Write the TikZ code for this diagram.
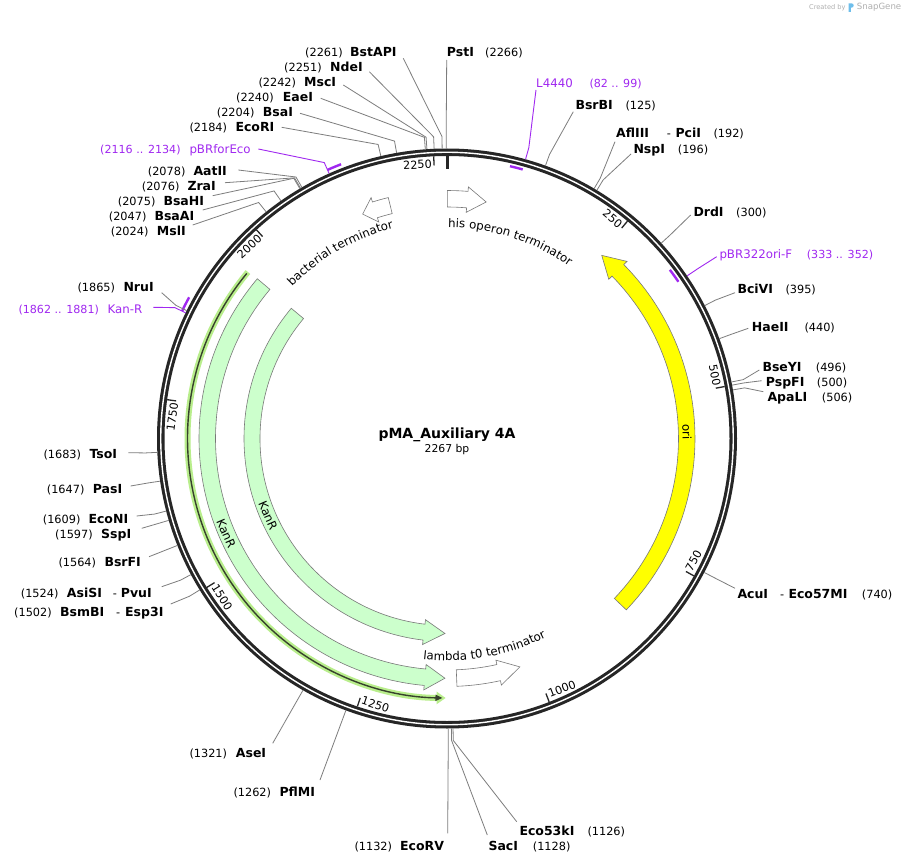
\documentclass[tikz,border=0pt]{standalone}
\usepackage{fontspec}
\setmainfont{DejaVu Sans}
\usetikzlibrary{calc,decorations.text,arrows.meta}
\definecolor{ringc}{RGB}{38,38,38}
\definecolor{leadc}{RGB}{125,125,125}
\definecolor{primc}{RGB}{160,40,240}
\definecolor{kanc}{RGB}{204,255,204}
\definecolor{oric}{RGB}{255,255,0}
\definecolor{edgec}{RGB}{120,120,120}
\definecolor{orfglow}{RGB}{185,238,140}
\definecolor{orfline}{RGB}{55,65,45}
\definecolor{sgc}{RGB}{175,175,175}
\definecolor{sgblue}{RGB}{110,190,235}
\tikzset{
  leadline/.style={draw=leadc, line width=0.8pt},
  primline/.style={draw=primc, line width=0.9pt},
  nametxt/.style={anchor=base west, inner sep=0pt, font=\fontsize{12.5}{14}\selectfont\bfseries},
  numtxt/.style={anchor=base west, inner sep=0pt, font=\fontsize{11.3}{13}\selectfont},
  primtxt/.style={anchor=base west, inner sep=0pt, font=\fontsize{11.8}{13}\selectfont, text=primc},
  primnum/.style={anchor=base west, inner sep=0pt, font=\fontsize{11.1}{13}\selectfont, text=primc},
  featbox/.style={draw=edgec, line width=0.6pt},
  feattxt/.style={inner sep=0pt, font=\fontsize{11.8}{14}\selectfont},
  ticktxt/.style={inner sep=0pt, font=\fontsize{11.2}{13}\selectfont},
  tickline/.style={draw=ringc, line width=1.3pt},
}
% leader: id, position, end x, end y, style
\newcommand{\Site}[5]{%
  \pgfmathsetmacro{\myA}{90-(#2)/2267*360}%
  \coordinate (c#1) at ($(O)+(\myA:290)$);%
  \coordinate (e#1) at ($(O)+(\myA:302)$);%
  \coordinate (l#1) at (#3,-#4);%
  \draw[#5] (c#1) -- (e#1) -- (l#1);%
}
% label: id, style, left x, centre y, text
\newcommand{\Lab}[5]{%
  \node[#2] (#1) at (#3,{-(#4+4.5)}) {#5};%
}
% feature arrow: a tail, a tip, r in, r out, head ext, head len, style
\newcommand{\FArrow}[7]{%
  \pgfmathsetmacro{\fAt}{90-(#1)}%
  \pgfmathsetmacro{\fAp}{90-(#2)}%
  \pgfmathsetmacro{\fRm}{((#3)+(#4))/2}%
  \pgfmathsetmacro{\fAb}{\fAp+(#6)/\fRm*180/pi*sign(\fAt-\fAp)}%
  \pgfmathsetmacro{\fRo}{(#4)+(#5)}%
  \pgfmathsetmacro{\fRi}{(#3)-(#5)}%
  \draw[#7] ($(O)+(\fAt:#4)$) arc[start angle=\fAt, end angle=\fAb, radius=#4]
     -- ($(O)+(\fAb:\fRo)$) -- ($(O)+(\fAp:\fRm)$) -- ($(O)+(\fAb:\fRi)$)
     -- ($(O)+(\fAb:#3)$) arc[start angle=\fAb, end angle=\fAt, radius=#3] -- cycle;%
}
% text along arc: centre a, radius, dir (1 = cw reading, -1 = ccw), text
\newcommand{\ArcText}[4]{%
  \pgfmathsetmacro{\tS}{90-(#1)+30*(#3)}%
  \pgfmathsetmacro{\tE}{90-(#1)-30*(#3)}%
  \path[decorate, decoration={text along path, text align=center,
      text={|\fontsize{11.8}{14}\selectfont|#4}}]
    ($(O)+(\tS:#2)$) arc[start angle=\tS, end angle=\tE, radius=#2];%
}
% primer mark: start pos, end pos, radius
\newcommand{\PrimerMark}[3]{%
  \pgfmathsetmacro{\pmA}{90-(#1)/2267*360}%
  \pgfmathsetmacro{\pmB}{90-(#2)/2267*360}%
  \draw[primc, line width=2.4pt] ($(O)+(\pmA:#3)$) arc[start angle=\pmA, end angle=\pmB, radius=#3];%
}
\begin{document}
\begin{tikzpicture}[x=1pt,y=1pt]
\fill[white] (0,0) rectangle (906,-864);
\path[use as bounding box] (0,0) rectangle (906,-864);
\coordinate (O) at (447,-438.5);

% ---- features ----
\FArrow{133.7}{40.2}{231.5}{248}{4.5}{22}{featbox, fill=oric}
\FArrow{310.1}{180.5}{231.5}{248}{4.5}{20}{featbox, fill=kanc}
\FArrow{309.9}{180.6}{187}{203}{4.5}{21}{featbox, fill=kanc}
\FArrow{0.1}{9.4}{231.5}{248}{4.5}{19}{featbox, fill=white}
\FArrow{346.3}{339.4}{231.5}{248}{4.5}{13}{featbox, fill=white}
\FArrow{177.7}{162.3}{231.5}{248}{4.5}{22}{featbox, fill=white}

% ORF line
\draw[orfglow, line width=6pt, -{Triangle[length=9pt,width=12pt]}]
  ($(O)+({90-309.9}:259.5)$) arc[start angle={90-309.9}, end angle={90-180.3}, radius=259.5];
\draw[orfline, line width=1.4pt, -{Triangle[length=7pt,width=6pt]}]
  ($(O)+({90-309.5}:259.5)$) arc[start angle={90-309.5}, end angle={90-181.0}, radius=259.5];

% feature labels
\ArcText{17.8}{211}{1}{his operon terminator}
\ArcText{330.1}{217}{1}{bacterial terminator}
\ArcText{169.8}{222}{-1}{lambda t0 terminator}
\node[feattxt, rotate=-66.7] (kanlab1) at ($(O)+({90-246.7}:240.5)$) {KanR};
\node[feattxt, rotate=-66.7] (kanlab2) at ($(O)+({90-246.7}:195)$) {KanR};
\node[feattxt, rotate=-88.5] (orilab) at ($(O)+({90-88.5}:240)$) {ori};

% ---- backbone ----
\draw[ringc, line width=7.5pt] (O) circle[radius=286.25];
\draw[white, line width=1.4pt] (O) circle[radius=286.25];
\draw[ringc, line width=3pt] ($(O)+(90:283)$) -- ($(O)+(90:269.5)$);
\foreach \p/\f in {250/0,500/0,750/1,1000/1,1250/1,1500/1,1750/0,2000/0,2250/0} {
  \pgfmathsetmacro{\tA}{90-\p/2267*360}
  \pgfmathsetmacro{\tB}{\tA+0.45}
  \draw[tickline] ($(O)+(\tA:282.5)$) -- ($(O)+(\tA:273.5)$);
  \ifnum\f=0
    \node[ticktxt, anchor=east, rotate={\tA-90}] (t\p) at ($(O)+(\tB:275)$) {\p};
  \else
    \node[ticktxt, anchor=west, rotate={\tA+90}] (t\p) at ($(O)+(\tB:275)$) {\p};
  \fi
}

% primer marks
\PrimerMark{2116}{2134}{294}
\PrimerMark{1862}{1881}{294}
\PrimerMark{82}{99}{279.5}
\PrimerMark{333}{352}{279.5}

% ---- leaders ----
\Site{BstAPI}{2261}{403.3}{58.3}{leadline}
\Site{NdeI}{2251}{369.3}{71.7}{leadline}
\Site{MscI}{2242}{343.3}{85}{leadline}
\Site{EaeI}{2240}{320.7}{98.3}{leadline}
\Site{BsaI}{2204}{300}{113.3}{leadline}
\Site{EcoRI}{2184}{281.7}{127.3}{leadline}
\Site{pBRforEco}{2116}{258.3}{149}{primline}
\Site{AatII}{2078}{238.3}{170}{leadline}
\Site{ZraI}{2076}{225}{182.7}{leadline}
\Site{BsaHI}{2075}{212.7}{195.7}{leadline}
\Site{BsaAI}{2047}{202.7}{210}{leadline}
\Site{MslI}{2024}{192.7}{225}{leadline}
\Site{PstI}{2266}{446.7}{60}{leadline}
\Site{L4440}{99}{536}{90}{primline}
\Site{BsrBI}{125}{573.3}{111.7}{leadline}
\Site{AflIII}{192}{615}{141.7}{leadline}
\Site{NspI}{196}{631}{154}{leadline}
\Site{DrdI}{300}{690.7}{215}{leadline}
\Site{pBRori}{352}{716.7}{256.7}{primline}
\Site{BciVI}{395}{735}{292.7}{leadline}
\Site{HaeII}{440}{748.3}{328.3}{leadline}
\Site{BseYI}{496}{759.3}{370}{leadline}
\Site{PspFI}{500}{761.7}{380.7}{leadline}
\Site{ApaLI}{506}{763.3}{391.7}{leadline}
\Site{AcuI}{740}{735}{588.3}{leadline}
\Site{Eco53kI}{1126}{516.7}{821.7}{leadline}
\Site{SacI}{1128}{487.3}{835}{leadline}
\Site{EcoRV}{1132}{447.7}{833.3}{leadline}
\Site{PflMI}{1262}{320}{780}{leadline}
\Site{AseI}{1321}{272.7}{743.3}{leadline}
\Site{BsmBI}{1502}{170.7}{604}{leadline}
\Site{AsiSI}{1524}{161.7}{586.7}{leadline}
\Site{BsrFI}{1564}{149}{556.7}{leadline}
\Site{SspI}{1597}{141.7}{528.3}{leadline}
\Site{EcoNI}{1609}{136.7}{516}{leadline}
\Site{PasI}{1647}{130.7}{486}{leadline}
\Site{TsoI}{1683}{128.3}{452.7}{leadline}
\Site{KanRp}{1862}{153.3}{307.3}{primline}
\Site{NruI}{1865}{161.7}{292.7}{leadline}

% ---- labels ----
\Lab{pBstAPI}{numtxt}{305}{51.7}{(2261)}
\Lab{nBstAPI}{nametxt}{350}{51.7}{BstAPI}
\Lab{pNdeI}{numtxt}{284}{66.7}{(2251)}
\Lab{nNdeI}{nametxt}{330}{66.7}{NdeI}
\Lab{pMscI}{numtxt}{258.3}{81.7}{(2242)}
\Lab{nMscI}{nametxt}{304}{81.7}{MscI}
\Lab{pEaeI}{numtxt}{236}{96.7}{(2240)}
\Lab{nEaeI}{nametxt}{282.7}{96.7}{EaeI}
\Lab{pBsaI}{numtxt}{216.7}{111.7}{(2204)}
\Lab{nBsaI}{nametxt}{262.7}{111.7}{BsaI}
\Lab{pEcoRI}{numtxt}{189.3}{126.7}{(2184)}
\Lab{nEcoRI}{nametxt}{235.3}{126.7}{EcoRI}
\Lab{ppBRforEco}{primnum}{100}{149}{(2116 .. 2134)}
\Lab{npBRforEco}{primtxt}{189.3}{149}{pBRforEco}
\Lab{pAatII}{numtxt}{147.7}{170.7}{(2078)}
\Lab{nAatII}{nametxt}{193.3}{170.7}{AatII}
\Lab{pZraI}{numtxt}{141.7}{185.7}{(2076)}
\Lab{nZraI}{nametxt}{187.3}{185.7}{ZraI}
\Lab{pBsaHI}{numtxt}{117.7}{200.7}{(2075)}
\Lab{nBsaHI}{nametxt}{163.3}{200.7}{BsaHI}
\Lab{pBsaAI}{numtxt}{108.7}{215.7}{(2047)}
\Lab{nBsaAI}{nametxt}{154.3}{215.7}{BsaAI}
\Lab{pMslI}{numtxt}{110.7}{230.7}{(2024)}
\Lab{nMslI}{nametxt}{156.7}{230.7}{MslI}

\Lab{nPstI}{nametxt}{446.7}{51.7}{PstI}
\Lab{pPstI}{numtxt}{485}{51.7}{(2266)}
\Lab{nL4440}{primtxt}{536}{82.7}{L4440}
\Lab{pL4440}{primnum}{589.3}{82.7}{(82 .. 99)}
\Lab{nBsrBI}{nametxt}{575.3}{105}{BsrBI}
\Lab{pBsrBI}{numtxt}{625.3}{105}{(125)}
\Lab{nAflIII}{nametxt}{616}{133.3}{AflIII}
\Lab{dAflIII}{numtxt}{666.7}{133.3}{-}
\Lab{nPciI}{nametxt}{675.3}{133.3}{PciI}
\Lab{pAflIII}{numtxt}{713.3}{133.3}{(192)}
\Lab{nNspI}{nametxt}{633.3}{149}{NspI}
\Lab{pNspI}{numtxt}{677.7}{149}{(196)}
\Lab{nDrdI}{nametxt}{693.3}{212.3}{DrdI}
\Lab{pDrdI}{numtxt}{736}{212.3}{(300)}
\Lab{npBRori}{primtxt}{719.3}{254}{pBR322ori-F}
\Lab{ppBRori}{primnum}{806.7}{254}{(333 .. 352)}
\Lab{nBciVI}{nametxt}{737.3}{289}{BciVI}
\Lab{pBciVI}{numtxt}{785.3}{289}{(395)}
\Lab{nHaeII}{nametxt}{751.7}{327}{HaeII}
\Lab{pHaeII}{numtxt}{804.3}{327}{(440)}
\Lab{nBseYI}{nametxt}{762.3}{367}{BseYI}
\Lab{pBseYI}{numtxt}{815.7}{367}{(496)}
\Lab{nPspFI}{nametxt}{765.7}{382}{PspFI}
\Lab{pPspFI}{numtxt}{816.7}{382}{(500)}
\Lab{nApaLI}{nametxt}{767.3}{397}{ApaLI}
\Lab{pApaLI}{numtxt}{821.7}{397}{(506)}
\Lab{nAcuI}{nametxt}{737.3}{593.7}{AcuI}
\Lab{dAcuI}{numtxt}{780}{593.7}{-}
\Lab{nEco57MI}{nametxt}{788.3}{593.7}{Eco57MI}
\Lab{pAcuI}{numtxt}{861.7}{593.7}{(740)}

\Lab{nEco53kI}{nametxt}{519.3}{831}{Eco53kI}
\Lab{pEco53kI}{numtxt}{587.3}{831}{(1126)}
\Lab{nSacI}{nametxt}{488.3}{846.3}{SacI}
\Lab{pSacI}{numtxt}{532.7}{846.3}{(1128)}
\Lab{pEcoRV}{numtxt}{354.3}{846}{(1132)}
\Lab{nEcoRV}{nametxt}{400}{846}{EcoRV}
\Lab{pPflMI}{numtxt}{233.3}{792.3}{(1262)}
\Lab{nPflMI}{nametxt}{279.3}{792.3}{PflMI}
\Lab{pAseI}{numtxt}{189.3}{753.3}{(1321)}
\Lab{nAseI}{nametxt}{235.7}{753.3}{AseI}

\Lab{pBsmBI}{numtxt}{14}{611.7}{(1502)}
\Lab{nBsmBI}{nametxt}{60}{611.7}{BsmBI}
\Lab{dBsmBI}{numtxt}{116}{611.7}{-}
\Lab{nEsp3I}{nametxt}{125}{611.7}{Esp3I}
\Lab{pAsiSI}{numtxt}{20.7}{592.7}{(1524)}
\Lab{nAsiSI}{nametxt}{66.7}{592.7}{AsiSI}
\Lab{dAsiSI}{numtxt}{112.7}{592.7}{-}
\Lab{nPvuI}{nametxt}{120.7}{592.7}{PvuI}
\Lab{pBsrFI}{numtxt}{58.3}{562}{(1564)}
\Lab{nBsrFI}{nametxt}{104.3}{562}{BsrFI}
\Lab{pSspI}{numtxt}{55}{534}{(1597)}
\Lab{nSspI}{nametxt}{101}{534}{SspI}
\Lab{pEcoNI}{numtxt}{42.7}{518.7}{(1609)}
\Lab{nEcoNI}{nametxt}{88.3}{518.7}{EcoNI}
\Lab{pPasI}{numtxt}{46.7}{488.7}{(1647)}
\Lab{nPasI}{nametxt}{92.7}{488.7}{PasI}
\Lab{pTsoI}{numtxt}{43.3}{454.3}{(1683)}
\Lab{nTsoI}{nametxt}{89.3}{454.3}{TsoI}
\Lab{pKanRp}{primnum}{18.3}{309}{(1862 .. 1881)}
\Lab{nKanRp}{primtxt}{107.3}{309}{Kan-R}
\Lab{pNruI}{numtxt}{77.3}{286.7}{(1865)}
\Lab{nNruI}{nametxt}{123.3}{286.7}{NruI}

% ---- title ----
\node[inner sep=0pt, font=\fontsize{14}{16}\selectfont\bfseries] (title) at (447,-435) {pMA\_Auxiliary 4A};
\node[inner sep=0pt, font=\fontsize{10.8}{13}\selectfont] (bp) at (447,-449.5) {2267 bp};

% ---- credit ----
\node[anchor=west, inner sep=0pt, text=sgc, font=\fontsize{6.6}{8}\selectfont] (credit) at (809,-7.3) {Created by};
\fill[sgblue] (848.5,-12) -- (848.5,-3.3) -- (851.5,-3.3) arc[start angle=90, end angle=-90, radius=2.2] -- (850.8,-7.7) -- (850.8,-12) -- cycle;
\node[anchor=west, inner sep=0pt, text=sgc, font=\fontsize{8.6}{10}\selectfont] (sglogo) at (856.7,-7.3) {SnapGene};
\end{tikzpicture}
\end{document}
